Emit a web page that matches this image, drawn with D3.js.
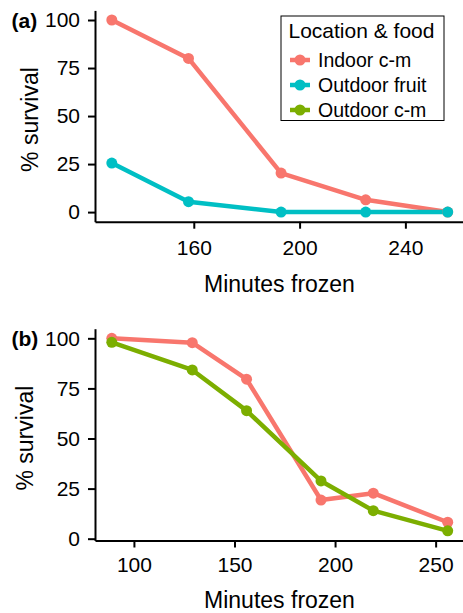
<!DOCTYPE html>
<html>
<head>
<meta charset="utf-8">
<script src="https://cdn.jsdelivr.net/npm/d3@7"></script>
<style>
  html, body { margin: 0; padding: 0; background: #fff; }
  svg { display: block; }
  text { font-family: "Liberation Sans", Arial, Helvetica, sans-serif; fill: #000; }
</style>
</head>
<body>
<svg id="chart" width="463" height="613"></svg>
<script>
// ---- data ----
const seriesNames = ["Indoor c-m", "Outdoor fruit", "Outdoor c-m"];
const seriesColors = ["#F8766D", "#00BFC4", "#7CAE00"];

const minutesA = [129, 158, 193, 225, 256];
const indoorA = [100, 80, 20.3, 6.4, 0];
const fruitA = [25.5, 5.4, 0, 0, 0];

const minutesB = [89, 129, 156, 193, 219, 256];
const indoorB = [100, 97.8, 79.6, 19.3, 22.7, 8.2];
const outdoorB = [98, 84.2, 63.9, 28.8, 14, 3.9];

const yTicks = [0, 25, 50, 75, 100];
const xTicksA = [160, 200, 240];
const xTicksB = [100, 150, 200, 250];

const panelLabels = ["(a)", "(b)"];
const xTitle = "Minutes frozen";
const yTitle = "% survival";
const legendTitle = "Location & food";

// ---- helpers ----
function expand(ext) {
  const d = (ext[1] - ext[0]) * 0.05;
  return [ext[0] - d, ext[1] + d];
}

const svg = d3.select("#chart");

function drawPanel(cfg) {
  const g = svg.append("g");
  const allY = cfg.series.flatMap(s => s.values);
  const x = d3.scaleLinear().domain(expand(d3.extent(cfg.minutes))).range([95, 464.5]);
  const y = d3.scaleLinear().domain(expand(d3.extent(allY))).range([cfg.bottom, cfg.top]);

  // axes
  const yAxis = d3.axisLeft(y).tickValues(yTicks).tickSize(7).tickSizeOuter(0).tickPadding(8);
  const xAxis = d3.axisBottom(x).tickValues(cfg.xTicks).tickSize(7).tickSizeOuter(0).tickPadding(cfg.xPad);

  const ya = g.append("g").attr("transform", `translate(95,0)`).call(yAxis);
  const xa = g.append("g").attr("transform", `translate(0,${cfg.bottom})`).call(xAxis);
  [ya, xa].forEach(a => {
    a.select(".domain").attr("stroke", "#000").attr("stroke-width", 2);
    a.selectAll(".tick line").attr("stroke", "#000").attr("stroke-width", 2);
    a.selectAll(".tick text").attr("font-size", 21).attr("fill", "#000")
      .style("font-family", '"Liberation Sans", Arial, sans-serif');
  });

  // lines and points
  const line = d3.line().x(d => x(d[0])).y(d => y(d[1]));
  cfg.series.forEach(s => {
    const pts = cfg.minutes.map((m, i) => [m, s.values[i]]);
    g.append("path").datum(pts)
      .attr("d", line).attr("fill", "none")
      .attr("stroke", s.color).attr("stroke-width", 4.5)
      .attr("stroke-linejoin", "round");
  });
  cfg.series.forEach(s => {
    const pts = cfg.minutes.map((m, i) => [m, s.values[i]]);
    g.selectAll(null).data(pts).enter().append("circle")
      .attr("cx", d => x(d[0])).attr("cy", d => y(d[1])).attr("r", 5.5)
      .attr("fill", s.color);
  });

  // titles
  g.append("text").attr("x", 279.5).attr("y", cfg.bottom + cfg.xTitleOff)
    .attr("text-anchor", "middle").attr("font-size", 23).text(xTitle);
  g.append("text")
    .attr("transform", `translate(${cfg.yTitleX},${(cfg.top + cfg.bottom) / 2 + 3.5}) rotate(-90)`)
    .attr("text-anchor", "middle").attr("font-size", 23).text(yTitle);

  // panel label
  g.append("text").attr("x", 11.5).attr("y", y(100) + 7.5)
    .attr("font-size", 21).attr("font-weight", "bold").text(cfg.label);
  return g;
}

drawPanel({
  minutes: minutesA,
  series: [
    { values: indoorA, color: seriesColors[0] },
    { values: fruitA, color: seriesColors[1] }
  ],
  top: 10.4, bottom: 221.7, xTicks: xTicksA, xPad: 11, xTitleOff: 70, yTitleX: 37.5,
  label: panelLabels[0]
});

drawPanel({
  minutes: minutesB,
  series: [
    { values: indoorB, color: seriesColors[0] },
    { values: outdoorB, color: seriesColors[2] }
  ],
  top: 328.7, bottom: 540.5, xTicks: xTicksB, xPad: 10, xTitleOff: 67, yTitleX: 33,
  label: panelLabels[1]
});

// legend
const leg = svg.append("g");
leg.append("rect").attr("x", 281).attr("y", 16).attr("width", 163).attr("height", 104.5)
  .attr("fill", "#fff").attr("stroke", "#000").attr("stroke-width", 1);
leg.append("text").attr("x", 288.5).attr("y", 37.5).attr("font-size", 21).text(legendTitle);
const rowY = d3.scalePoint().domain(seriesNames).range([60, 110]);
seriesNames.forEach((name, i) => {
  const cy = rowY(name);
  leg.append("line").attr("x1", 290).attr("x2", 310).attr("y1", cy).attr("y2", cy)
    .attr("stroke", seriesColors[i]).attr("stroke-width", 4.5);
  leg.append("circle").attr("cx", 300).attr("cy", cy).attr("r", 5.5).attr("fill", seriesColors[i]);
  leg.append("text").attr("x", 318).attr("y", cy + 7).attr("font-size", 19.5).text(name);
});
</script>
</body>
</html>
